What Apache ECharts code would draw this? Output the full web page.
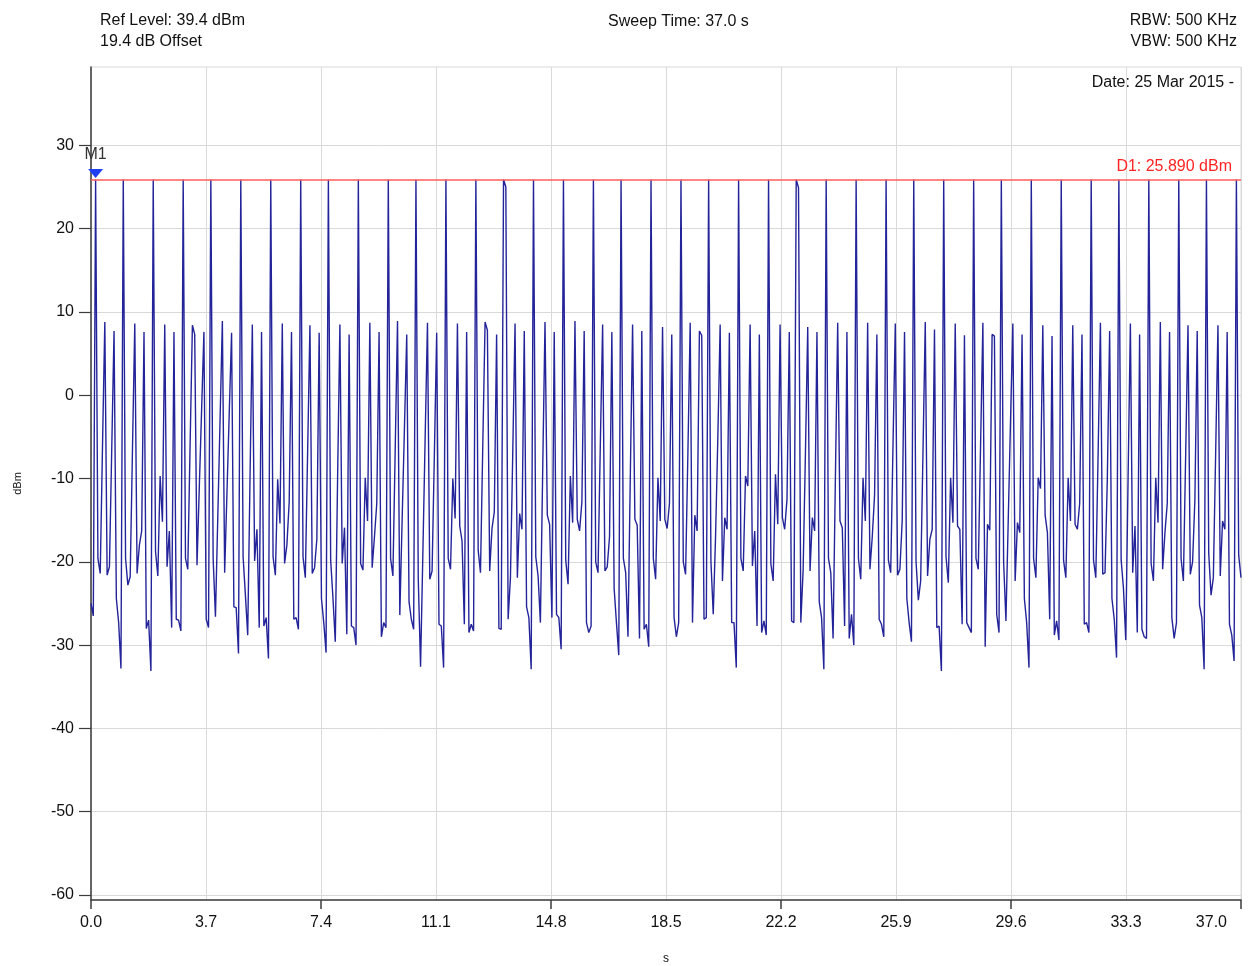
<!DOCTYPE html>
<html><head><meta charset="utf-8">
<script src="https://cdn.jsdelivr.net/npm/echarts@6/dist/echarts.min.js"></script>
<style>html,body{margin:0;padding:0;background:#fff}#c{width:1251px;height:966px}</style>
</head><body><div id="c"></div>
<script>
// ---- data ----
const sweepTime = 37.0;          // s
const refLevel = 39.4;           // dBm (top of screen)
const bottomLevel = -60.6;       // dBm (bottom of screen)
const deltaLevel = 25.89;        // D1 line
const markerIndex = 2;           // M1 on first peak
const yTickValues = [-60, -50, -40, -30, -20, -10, 0, 10, 20, 30];
const xLabelStep = 3.7;
const xTickStep = 7.4;
const traceLevels = [
 -25, -26.5, 25.89, -19.6, -21.4, -6, 8.8, -21.6, -20.6, -6.5,
 7.7, -24.4, -27.3, -32.8, 25.89, -19.6, -22.8, -21.8, -6.5, 8.6,
 -21.4, -18, -16.3, 7.6, -28, -27, -33.1, 25.89, -18.8, -21.7,
 -9.7, -15.2, 8.5, -20.6, -16.3, -27.9, 7.6, -26.9, -27, -28.3,
 25.89, -19.6, -20.9, -6, 8.4, 7.3, -20.4, -11, -1.7, 7.6,
 -26.9, -27.9, 25.89, -19.6, -26.6, -14.8, -3, 8.9, -21.3, -11.7,
 -2, 7.5, -25.4, -25.5, -31, 25.89, -19.4, -24, -28.8, -10,
 8.5, -19.9, -16.1, -27.9, 7.6, -27.7, -26.7, -31.6, 25.89, -19.4,
 -21.6, -10.1, -15.4, 8.6, -20.2, -18, -12.8, 7.6, -26.9, -26.7,
 -28.1, 25.89, -19.4, -21.9, -6.8, 8.4, -21.4, -20.7, -17.3, 7.5,
 -24.4, -27.3, -30.9, 25.89, -19.8, -24.4, -29.6, -10, 8.5, -20.2,
 -15.9, -28.7, 7.3, -27.7, -27.9, -30, 25.89, -20.2, -21, -9.9,
 -15.1, 8.7, -20.7, -17, -13, 7.6, -29, -27.3, -27.9, 25.89,
 -19.6, -21.7, -6.5, 8.9, -26.4, -15, -4, 7.3, -24.8, -26.9,
 -28.1, 25.89, -22, -32.6, -19, -5, 8.7, -22.1, -21.1, -7,
 7.5, -27.5, -27.7, -32.7, 25.89, -19.6, -20.9, -10, -14.8, 8.6,
 -15.7, -17.5, -27.5, 7.6, -28.5, -27.5, -28.3, 25.89, -18.6, -21.3,
 -6, 8.8, 7.8, -21.1, -16, -14, 7.3, -28, -28.1, 25.89,
 25, -26.9, -21.9, -7, 8.6, -21.9, -14.2, -16.1, 7.7, -25.4,
 -26.7, -32.9, 25.89, -19.4, -21.7, -27.3, -9, 8.8, -14.4, -15.5,
 -26.7, 7.6, -26.3, -26.7, -30.5, 25.89, -19.8, -22.7, -9.7, -15.3,
 8.9, -14.9, -16.3, -12.8, 7.7, -27.3, -28.5, -27.7, 25.89, -20,
 -21.3, -6, 8.5, -21.1, -20.6, -17, 7.6, -23.2, -27.3, -31.2,
 25.89, -19.6, -21.3, -29, -10, 8.5, -14.9, -15.6, -29.2, 7.7,
 -28.1, -27.5, -30.2, 25.89, -19.6, -22.1, -9.9, -15.1, 8.2, -14.9,
 -16, -13, 7.3, -26.7, -29, -27.3, 25.89, -20, -21.5, -7,
 8.7, -27.3, -14.4, -16.3, 7.7, 7.2, -26.9, -26.7, 25.89, -20,
 -26.3, -17, -5, 8.5, -22.3, -14.7, -16.1, 7.5, -27.3, -27.3,
 -32.7, 25.89, -19.6, -21.1, -9.7, -10.9, 8.5, -20.5, -16.3, -27.7,
 7.3, -28.5, -27.1, -28.8, 25.89, -20.2, -22.3, -9.5, -15.5, 8.5,
 -14.7, -16.1, -12.5, 7.6, -27.1, -27.3, 25.89, 24.9, -27.3, -21,
 -7, 8.2, -21.1, -14.7, -16.3, 7.6, -24.8, -26.7, -32.9, 25.89,
 -19.6, -21.3, -29.2, -10, 8.7, -15.1, -15.9, -27.7, 7.6, -29.2,
 -26.3, -30, 25.89, -19.6, -22.1, -9.9, -15.1, 8.7, -20.9, -17,
 -12, 7.3, -26.9, -27.5, -29, 25.89, -19.8, -21.3, -6, 8.6,
 -21.6, -20.9, -15, 7.6, -24.4, -27.3, -29.6, 25.89, -20, -24.6,
 -22.3, -7, 8.8, -21.7, -17.3, -16.1, 7.9, -27.9, -27.7, -33.1,
 25.89, -19.4, -22.5, -9.9, -15.3, 8.6, -15.7, -16.1, -27.5, 7.2,
 -27.3, -27.9, -28.5, 25.89, -19.6, -20.9, -6, 8.7, -30.2, -15.5,
 -16.2, 7.3, 7.1, -26.3, -28.5, 25.89, -20, -27.1, -15, -3,
 8.6, -22.3, -15.3, -16.5, 7.3, -24.4, -27.3, -32.7, 25.89, -19.6,
 -21.9, -9.9, -11.2, 8.4, -14.4, -16.5, -26.9, 7.1, -28.8, -27.1,
 -29.4, 25.89, -19.8, -21.9, -9.9, -15.1, 8.4, -15.5, -16.1, -13,
 7.3, -27.5, -27.3, -28.5, 25.89, -19.8, -21.9, -7, 8.7, -21.5,
 -21.3, -10, 7.7, -24.4, -26.9, -31.5, 25.89, -19.8, -23.2, -29.4,
 -10, 8.6, -21.3, -15.7, -28.5, 7.3, -28.1, -29, -29.2, 25.89,
 -20.2, -22.3, -9.9, -15.3, 8.8, -20.9, -16.5, -13, 7.6, -26.7,
 -29.2, -27.3, 25.89, -19.6, -22.3, -7, 8.4, -21.5, -20, -12.5,
 7.7, -25.2, -26.7, -32.9, 25.89, -19, -24, -21.9, -7, 8.4,
 -21.7, -15.1, -16.1, 7.6, -27.5, -28.8, -31.9, 25.89, -19.2, -21.9
];

// ---- chart ----
const FONT = '"Liberation Sans", Arial, sans-serif';
const n = traceLevels.length;
const traceData = traceLevels.map((v, i) => [i * sweepTime / (n - 1), v]);
const markerTime = markerIndex * sweepTime / (n - 1);
const AXIS_COL = '#3c3c3c';
const GRID_COL = '#d9d9d9';
const TXT = '#111';

const chart = echarts.init(document.getElementById('c'), null, {renderer: 'canvas'});
chart.setOption({
  animation: false,
  backgroundColor: '#fff',
  textStyle: {fontFamily: FONT},
  grid: {left: 91, top: 67, width: 1150, height: 833, show: true, outerBoundsMode: 'none',
         containLabel: false, borderColor: GRID_COL, borderWidth: 1, backgroundColor: 'transparent'},
  graphic: [
    {type: 'text', left: 100, top: 13, style: {text: 'Ref Level: 39.4 dBm', fontSize: 16, fontFamily: FONT, fill: TXT}},
    {type: 'text', left: 100, top: 34, style: {text: '19.4 dB Offset', fontSize: 16, fontFamily: FONT, fill: TXT}},
    {type: 'text', left: 608, top: 14, style: {text: 'Sweep Time: 37.0 s', fontSize: 16, fontFamily: FONT, fill: TXT}},
    {type: 'text', right: 14, top: 13, style: {text: 'RBW: 500 KHz', fontSize: 16, fontFamily: FONT, fill: TXT}},
    {type: 'text', right: 14, top: 34, style: {text: 'VBW: 500 KHz', fontSize: 16, fontFamily: FONT, fill: TXT}},
    {type: 'text', right: 17, top: 75, style: {text: 'Date: 25 Mar 2015 -', fontSize: 16, fontFamily: FONT, fill: TXT}}
  ],
  xAxis: [{
    type: 'value', min: 0, max: sweepTime, interval: xLabelStep,
    axisLine: {show: true, onZero: false, lineStyle: {color: AXIS_COL, width: 1.5}},
    axisTick: {show: false},
    splitLine: {show: true, lineStyle: {color: GRID_COL, width: 1}},
    axisLabel: {
      color: TXT, fontSize: 16, fontFamily: FONT, margin: 15, alignMaxLabel: 'right',
      formatter: v => (Math.abs(v - sweepTime) < 1e-6 ? '{e|' + v.toFixed(1) + '}' : v.toFixed(1)),
      rich: {e: {fontSize: 16, fontFamily: FONT, color: TXT, padding: [0, 14, 0, 0]}}
    },
    name: 's', nameLocation: 'middle', nameGap: 53,
    nameTextStyle: {fontSize: 12, color: TXT, fontFamily: FONT}
  }, {
    type: 'value', min: 0, max: sweepTime, interval: xTickStep, position: 'bottom',
    axisLine: {show: false, onZero: false},
    axisTick: {show: true, length: 9, lineStyle: {color: AXIS_COL, width: 1.5}},
    axisLabel: {show: false},
    splitLine: {show: false}
  }],
  yAxis: {
    type: 'value', min: bottomLevel, max: refLevel,
    axisLine: {show: true, onZero: false, lineStyle: {color: AXIS_COL, width: 1.5}},
    axisTick: {show: true, length: 12, customValues: yTickValues, lineStyle: {color: AXIS_COL, width: 1.2}},
    axisLabel: {customValues: yTickValues, color: TXT, fontSize: 16, fontFamily: FONT, margin: 17},
    splitLine: {show: true, lineStyle: {color: GRID_COL, width: 1}},
    name: 'dBm', nameLocation: 'middle', nameGap: 68,
    nameTextStyle: {fontSize: 11, color: TXT, fontFamily: FONT}
  },
  series: [{
    type: 'line', xAxisIndex: 0, data: traceData, symbol: 'none', showSymbol: false,
    lineStyle: {color: '#24249a', width: 1.4}, silent: true,
    markLine: {
      silent: true, symbol: ['none', 'none'], animation: false,
      data: [{yAxis: deltaLevel}],
      lineStyle: {color: '#ff5c5c', width: 1.5, type: 'solid'},
      label: {show: true, position: 'insideEndTop', distance: [9, 5],
              formatter: 'D1: ' + deltaLevel.toFixed(3) + ' dBm',
              color: '#ff2424', fontSize: 16, fontFamily: FONT}
    },
    markPoint: {
      silent: true, animation: false,
      symbol: 'path://M0,0 L14,0 L7,8 Z', symbolSize: [15, 9], symbolOffset: [0, -6],
      itemStyle: {color: '#1f3ff0'},
      label: {show: true, position: 'top', distance: 6, formatter: 'M1',
              color: '#333', fontSize: 16, fontFamily: FONT},
      data: [{coord: [markerTime, deltaLevel]}]
    }
  }]
});
</script></body></html>
